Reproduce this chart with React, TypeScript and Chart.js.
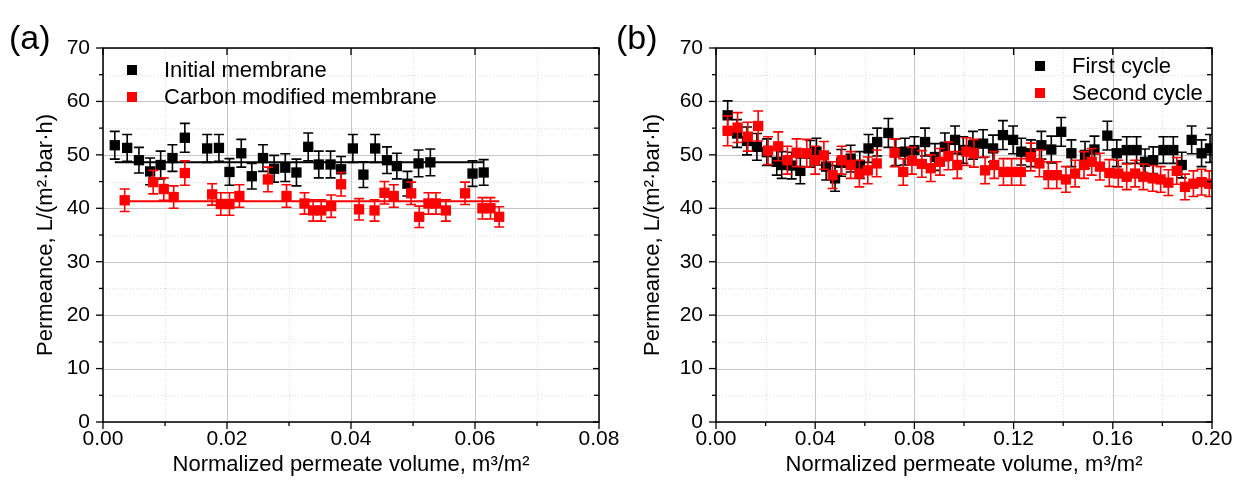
import { useEffect, useRef } from 'react';
import { Chart, registerables } from 'chart.js';
Chart.register(...registerables);

const FONT = "'Liberation Sans', Arial, Helvetica, sans-serif";

// ---------------- Panel (a) ----------------
const aInitialX = [0.0019, 0.0039, 0.0058, 0.0076, 0.0093, 0.0112, 0.0132, 0.0168, 0.0187, 0.0204, 0.0223, 0.024, 0.0258, 0.0276, 0.0294, 0.0312, 0.0331, 0.0348, 0.0367, 0.0384, 0.0403, 0.042, 0.0439, 0.0458, 0.0474, 0.0491, 0.0509, 0.0528, 0.0596, 0.0614];
const aInitialY = [51.8, 51.3, 49.0, 46.9, 48.1, 49.4, 53.2, 51.2, 51.3, 46.8, 50.3, 46.0, 49.4, 47.4, 47.6, 46.7, 51.5, 48.2, 48.2, 47.3, 51.2, 46.3, 51.2, 49.0, 47.9, 44.6, 48.4, 48.6, 46.5, 46.7];
const aInitialErr = [2.6, 2.5, 2.4, 2.5, 2.6, 2.5, 2.7, 2.6, 2.5, 2.5, 2.6, 2.4, 2.5, 2.5, 2.6, 2.5, 2.6, 2.5, 2.5, 2.4, 2.6, 2.4, 2.6, 2.5, 2.4, 2.3, 2.5, 2.5, 2.4, 2.4];

const aCarbonX = [0.0035, 0.0081, 0.0098, 0.0114, 0.0132, 0.0176, 0.019, 0.0204, 0.022, 0.0266, 0.0296, 0.0325, 0.0339, 0.0352, 0.0368, 0.0384, 0.0413, 0.0438, 0.0454, 0.0469, 0.0497, 0.051, 0.0525, 0.0537, 0.0553, 0.0584, 0.0612, 0.0625, 0.0639];
const aCarbonY = [41.5, 44.9, 43.6, 42.1, 46.6, 42.6, 40.8, 40.8, 42.3, 45.4, 42.3, 40.9, 39.6, 39.6, 40.4, 44.5, 39.8, 39.6, 42.9, 42.3, 42.8, 38.4, 40.9, 40.9, 39.6, 42.8, 40.0, 40.0, 38.4];
const aCarbonErr = [2.1, 2.2, 2.1, 2.1, 2.3, 2.0, 2.1, 2.1, 2.1, 2.3, 2.1, 2.0, 2.0, 2.0, 2.1, 2.2, 2.0, 2.0, 2.1, 2.1, 2.1, 2.0, 2.0, 2.0, 2.0, 2.1, 2.0, 2.0, 1.9];

const aInitialFitX = [0.0019, 0.0614];
const aInitialFitY = [48.6, 48.6];
const aCarbonFitX = [0.0035, 0.0639];
const aCarbonFitY = [41.3, 41.3];

const aXMajor = [0, 0.02, 0.04, 0.06, 0.08];
const aXMinor = [0.01, 0.03, 0.05, 0.07];

// ---------------- Panel (b) ----------------
const bFirstX = [0.0047, 0.0085, 0.0125, 0.0165, 0.0205, 0.0245, 0.0265, 0.0305, 0.034, 0.038, 0.0405, 0.0444, 0.048, 0.0505, 0.0543, 0.058, 0.0615, 0.065, 0.0695, 0.0725, 0.0762, 0.08, 0.0843, 0.0883, 0.0923, 0.0964, 0.0997, 0.1036, 0.1077, 0.1117, 0.1157, 0.1198, 0.1231, 0.127, 0.1312, 0.1352, 0.1392, 0.1433, 0.1488, 0.1526, 0.1578, 0.1616, 0.1656, 0.1696, 0.173, 0.1763, 0.1804, 0.1844, 0.1878, 0.1918, 0.1958, 0.1992];
const bFirstY = [57.4, 54.0, 52.6, 51.5, 50.5, 48.7, 48.1, 48.0, 47.0, 50.2, 50.6, 47.8, 45.6, 48.5, 49.3, 48.1, 51.2, 52.4, 54.1, 50.5, 50.6, 50.9, 52.4, 49.6, 51.5, 52.8, 50.9, 51.8, 52.1, 51.2, 53.7, 52.8, 50.6, 50.3, 51.8, 51.0, 54.3, 50.3, 50.0, 51.0, 53.6, 50.3, 50.9, 50.9, 48.7, 49.0, 50.9, 50.9, 48.1, 52.8, 50.3, 51.2];
const bFirstErr = [2.7, 2.6, 2.6, 2.5, 2.5, 2.5, 2.5, 2.5, 2.4, 2.5, 2.5, 2.5, 2.4, 2.5, 2.5, 2.5, 2.6, 2.6, 2.7, 2.5, 2.5, 2.5, 2.6, 2.5, 2.6, 2.6, 2.5, 2.6, 2.6, 2.5, 2.7, 2.6, 2.5, 2.5, 2.6, 2.5, 2.7, 2.5, 2.5, 2.5, 2.7, 2.5, 2.5, 2.5, 2.4, 2.5, 2.5, 2.5, 2.4, 2.6, 2.5, 2.6];

const bSecondX = [0.0047, 0.0087, 0.0128, 0.017, 0.021, 0.0251, 0.0288, 0.0325, 0.0366, 0.04, 0.0435, 0.047, 0.0507, 0.0543, 0.0578, 0.0612, 0.0648, 0.072, 0.0755, 0.079, 0.083, 0.0866, 0.0903, 0.0937, 0.0973, 0.101, 0.104, 0.1085, 0.1122, 0.1159, 0.1192, 0.1229, 0.1269, 0.1304, 0.134, 0.1374, 0.1411, 0.1448, 0.1484, 0.1515, 0.1548, 0.1586, 0.1622, 0.1656, 0.169, 0.1723, 0.1761, 0.1793, 0.1824, 0.1858, 0.1891, 0.1925, 0.1958, 0.1989];
const bSecondY = [54.5, 55.1, 53.4, 55.4, 50.8, 51.6, 49.0, 50.4, 50.3, 49.0, 49.9, 46.2, 49.0, 48.1, 46.5, 47.1, 48.4, 50.4, 46.8, 48.9, 48.3, 47.5, 48.7, 49.8, 48.1, 50.6, 50.3, 47.1, 48.1, 46.8, 46.8, 46.8, 49.6, 48.4, 46.2, 46.2, 45.4, 46.5, 48.1, 48.7, 47.8, 46.6, 46.5, 45.9, 46.5, 45.9, 45.6, 45.4, 44.8, 47.0, 44.0, 44.6, 44.9, 44.6];
const bSecondErr = [2.8, 2.8, 2.7, 2.8, 2.6, 2.7, 2.6, 2.6, 2.6, 2.6, 2.6, 2.5, 2.6, 2.5, 2.5, 2.5, 2.5, 2.6, 2.5, 2.5, 2.5, 2.5, 2.5, 2.6, 2.5, 2.6, 2.6, 2.5, 2.5, 2.5, 2.5, 2.5, 2.6, 2.5, 2.5, 2.5, 2.4, 2.5, 2.5, 2.5, 2.5, 2.5, 2.5, 2.4, 2.5, 2.4, 2.4, 2.4, 2.4, 2.5, 2.4, 2.4, 2.4, 2.4];

const bXMajor = [0, 0.04, 0.08, 0.12, 0.16, 0.2];
const bXMinor = [0.02, 0.06, 0.1, 0.14, 0.18];

const yMajor = [0, 10, 20, 30, 40, 50, 60, 70];
const yMinor = [5, 15, 25, 35, 45, 55, 65];

const Y_TITLE = 'Permeance, L/(m\u00B2\u00B7bar\u00B7h)';
const X_TITLE = 'Normalized permeate volume, m\u00B3/m\u00B2';

type LegendItem = { label: string; color: string };
type PanelCfg = {
  tag: string;
  tagX: number;
  xMajor: number[];
  xMinor: number[];
  legend: LegendItem[];
  legendX: number;
  legendY: number;
  textX: number;
};

function makePlugin(cfg: PanelCfg) {
  return {
    id: 'frame',
    beforeDatasetsDraw(chart: any) {
      const { ctx, chartArea: a } = chart;
      const xs = chart.scales.x, ys = chart.scales.y;
      ctx.save();
      ctx.lineWidth = 1;
      const vline = (v: number) => {
        const p = Math.round(xs.getPixelForValue(v)) + 0.5;
        ctx.beginPath(); ctx.moveTo(p, a.top); ctx.lineTo(p, a.bottom); ctx.stroke();
      };
      const hline = (v: number) => {
        const p = Math.round(ys.getPixelForValue(v)) + 0.5;
        ctx.beginPath(); ctx.moveTo(a.left, p); ctx.lineTo(a.right, p); ctx.stroke();
      };
      ctx.strokeStyle = '#dcdcdc';
      ctx.setLineDash([1, 2]);
      cfg.xMinor.forEach(vline);
      yMinor.forEach(hline);
      ctx.setLineDash([]);
      ctx.strokeStyle = '#c6c6c6';
      cfg.xMajor.forEach(vline);
      yMajor.forEach(hline);
      ctx.restore();
    },
    beforeDatasetDraw(chart: any, args: any) {
      const ds = chart.data.datasets[args.index];
      if (!ds.errors) return;
      const { ctx, chartArea: a } = chart;
      const xs = chart.scales.x, ys = chart.scales.y;
      ctx.save();
      ctx.beginPath();
      ctx.rect(a.left, a.top, a.right - a.left, a.bottom - a.top);
      ctx.clip();
      ctx.strokeStyle = ds.backgroundColor;
      ctx.lineWidth = 1.6;
      ds.data.forEach((pt: any, i: number) => {
        const e = ds.errors[i];
        const px = xs.getPixelForValue(pt.x);
        const pt1 = ys.getPixelForValue(pt.y + e);
        const pt2 = ys.getPixelForValue(pt.y - e);
        ctx.beginPath();
        ctx.moveTo(px, pt1); ctx.lineTo(px, pt2);
        ctx.moveTo(px - 5, pt1); ctx.lineTo(px + 5, pt1);
        ctx.moveTo(px - 5, pt2); ctx.lineTo(px + 5, pt2);
        ctx.stroke();
      });
      ctx.restore();
    },
    afterDraw(chart: any) {
      const { ctx, chartArea: a } = chart;
      const xs = chart.scales.x, ys = chart.scales.y;
      ctx.save();
      ctx.strokeStyle = '#000';
      ctx.lineWidth = 1.5;
      ctx.strokeRect(a.left, a.top, a.right - a.left, a.bottom - a.top);
      ctx.lineWidth = 1.3;
      const seg = (x1: number, y1: number, x2: number, y2: number) => {
        ctx.beginPath(); ctx.moveTo(x1, y1); ctx.lineTo(x2, y2); ctx.stroke();
      };
      cfg.xMajor.forEach((v) => {
        const p = xs.getPixelForValue(v);
        seg(p, a.bottom, p, a.bottom + 7);
        seg(p, a.top, p, a.top + 7);
      });
      cfg.xMinor.forEach((v) => {
        const p = xs.getPixelForValue(v);
        seg(p, a.bottom, p, a.bottom + 4);
      });
      yMajor.forEach((v) => {
        const p = ys.getPixelForValue(v);
        seg(a.left - 7, p, a.left, p);
        seg(a.right - 6, p, a.right, p);
      });
      yMinor.forEach((v) => {
        const p = ys.getPixelForValue(v);
        seg(a.left - 4, p, a.left, p);
        seg(a.right - 5, p, a.right, p);
      });
      // legend
      ctx.font = `22px ${FONT}`;
      ctx.textBaseline = 'middle';
      ctx.textAlign = 'left';
      cfg.legend.forEach((it, i) => {
        const y = cfg.legendY + i * 27;
        ctx.fillStyle = it.color;
        ctx.fillRect(cfg.legendX - 5, y - 5, 10, 10);
        ctx.fillStyle = '#000';
        ctx.fillText(it.label, cfg.textX, y + 1);
      });
      // panel tag
      ctx.font = `34px ${FONT}`;
      ctx.textBaseline = 'alphabetic';
      ctx.fillStyle = '#000';
      ctx.fillText(cfg.tag, cfg.tagX, 49);
      ctx.restore();
    },
  };
}

function buildChart(
  canvas: HTMLCanvasElement,
  cfg: PanelCfg,
  xMax: number,
  xStep: number,
  yAxisWidth: number,
  yTitlePad: number,
  datasets: any[]
) {
  const tickFont = { family: FONT, size: 21 };
  return new Chart(canvas, {
    type: 'scatter',
    data: { datasets },
    options: {
      animation: false,
      responsive: false,
      maintainAspectRatio: false,
      events: [],
      layout: { padding: { left: 0, right: 31, top: 48, bottom: 0 } },
      plugins: { legend: { display: false }, tooltip: { enabled: false } },
      scales: {
        x: {
          type: 'linear',
          min: 0,
          max: xMax,
          ticks: {
            stepSize: xStep,
            autoSkip: false,
            maxRotation: 0,
            font: tickFont,
            color: '#000',
            padding: 5,
            callback: (v: any) => Number(v).toFixed(2),
          },
          grid: { display: false, drawTicks: false },
          border: { display: false },
          title: {
            display: true,
            text: X_TITLE,
            color: '#000',
            font: { family: FONT, size: 22 },
            padding: { top: 0, bottom: 7 },
          },
          afterFit: (s: any) => {
            s.height = 63;
            s.paddingLeft = 0;
            s.paddingRight = 0;
          },
        },
        y: {
          type: 'linear',
          min: 0,
          max: 70,
          ticks: {
            stepSize: 10,
            font: tickFont,
            color: '#000',
            padding: 13,
            callback: (v: any) => String(v),
          },
          grid: { display: false, drawTicks: false },
          border: { display: false },
          title: {
            display: true,
            text: Y_TITLE,
            color: '#000',
            font: { family: FONT, size: 22 },
            padding: { top: yTitlePad, bottom: 0 },
          },
          afterFit: (s: any) => {
            s.width = yAxisWidth;
            s.paddingTop = 0;
            s.paddingBottom = 0;
          },
        },
      },
    } as any,
    plugins: [makePlugin(cfg) as any],
  });
}

const pts = (xs: number[], ys: number[]) => xs.map((x, i) => ({ x, y: ys[i] }));

function scatterSet(label: string, color: string, xs: number[], ys: number[], errs: number[]) {
  return {
    label,
    data: pts(xs, ys),
    errors: errs,
    backgroundColor: color,
    borderColor: color,
    borderWidth: 0,
    pointStyle: 'rect',
    pointRadius: 7.3,
    showLine: false,
  };
}

function lineSet(color: string, xs: number[], ys: number[]) {
  return {
    type: 'line',
    data: pts(xs, ys),
    borderColor: color,
    backgroundColor: color,
    borderWidth: 2,
    pointRadius: 0,
    showLine: true,
    fill: false,
  };
}

export default function App() {
  const refA = useRef<HTMLCanvasElement>(null);
  const refB = useRef<HTMLCanvasElement>(null);

  useEffect(() => {
    document.body.style.margin = '0';
    const cfgA: PanelCfg = {
      tag: '(a)',
      tagX: 9,
      xMajor: aXMajor,
      xMinor: aXMinor,
      legend: [
        { label: 'Initial membrane', color: '#000000' },
        { label: 'Carbon modified membrane', color: '#ff0000' },
      ],
      legendX: 132,
      legendY: 70,
      textX: 164,
    };
    const cfgB: PanelCfg = {
      tag: '(b)',
      tagX: 16,
      xMajor: bXMajor,
      xMinor: bXMinor,
      legend: [
        { label: 'First cycle', color: '#000000' },
        { label: 'Second cycle', color: '#ff0000' },
      ],
      legendX: 440,
      legendY: 66,
      textX: 472,
    };
    const chartA = buildChart(refA.current!, cfgA, 0.08, 0.02, 103, 33, [
      scatterSet('Carbon modified membrane', '#ff0000', aCarbonX, aCarbonY, aCarbonErr),
      scatterSet('Initial membrane', '#000000', aInitialX, aInitialY, aInitialErr),
      lineSet('#000000', aInitialFitX, aInitialFitY),
      lineSet('#ff0000', aCarbonFitX, aCarbonFitY),
    ]);
    const chartB = buildChart(refB.current!, cfgB, 0.2, 0.04, 116, 40, [
      scatterSet('Second cycle', '#ff0000', bSecondX, bSecondY, bSecondErr),
      scatterSet('First cycle', '#000000', bFirstX, bFirstY, bFirstErr),
    ]);
    return () => {
      chartA.destroy();
      chartB.destroy();
    };
  }, []);

  return (
    <div style={{ position: 'relative', width: 1243, height: 485, background: '#fff' }}>
      <canvas ref={refA} width={630} height={485} style={{ position: 'absolute', left: 0, top: 0, width: 630, height: 485 }} />
      <canvas ref={refB} width={643} height={485} style={{ position: 'absolute', left: 600, top: 0, width: 643, height: 485 }} />
    </div>
  );
}
